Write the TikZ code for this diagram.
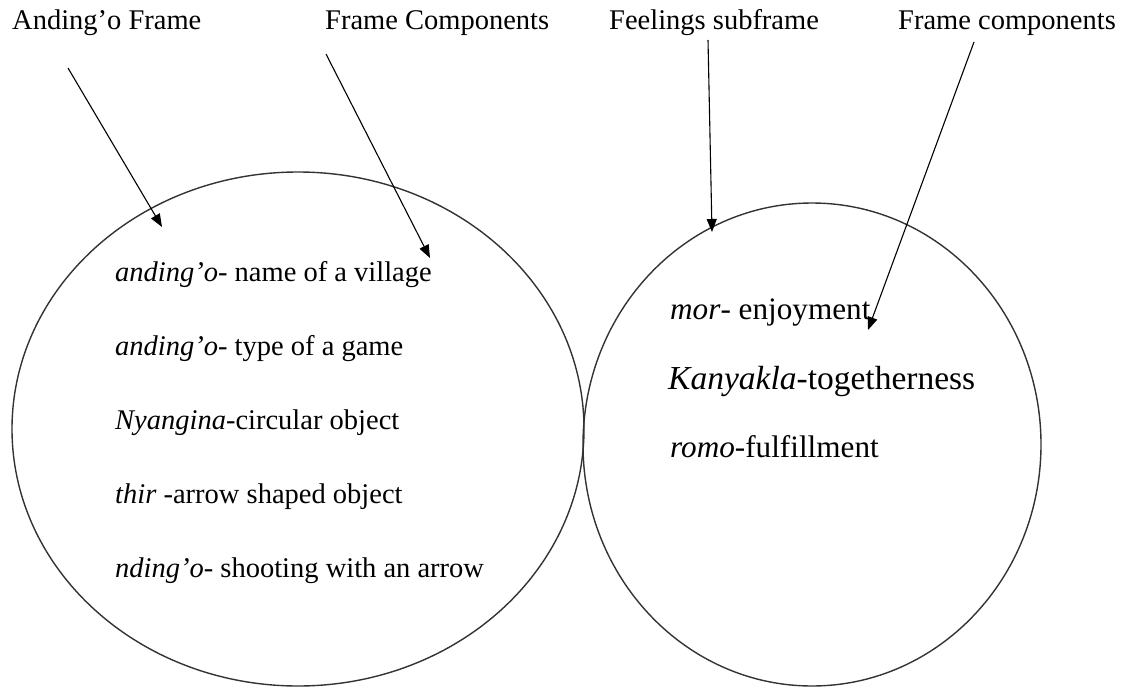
\documentclass[tikz,border=0pt]{standalone}
\usepackage{fontspec}
\setmainfont{Liberation Serif}
\usetikzlibrary{arrows.meta,shapes.geometric}
\begin{document}
\begin{tikzpicture}[x=1pt,y=-1pt,
  frame/.style={draw=black!80, line width=1.4pt, ellipse, inner sep=0pt},
  heading/.style={anchor=west, inner sep=0pt, font=\fontsize{28.5}{32}\selectfont},
  entry/.style={anchor=west, inner sep=0pt, font=\fontsize{28.5}{32}\selectfont},
  rentry/.style={anchor=west, inner sep=0pt, font=\fontsize{31.2}{34}\selectfont},
  pointer/.style={line width=1.1pt, -{Triangle[length=13pt,width=10pt]}}]
\useasboundingbox (0,0) rectangle (1124,688);

% the two frames
\node[frame, minimum width=572pt, minimum height=514pt] (andingo) at (298,429) {};
\node[frame, minimum width=458pt, minimum height=483pt] (feelings) at (812,444.5) {};

% headings along the top
\node[heading] (hA) at (12,23) {Anding’o Frame};
\node[heading] (hB) at (325,23) {Frame Components};
\node[heading] (hC) at (609,23) {Feelings subframe};
\node[heading] (hD) at (898,23) {Frame components};

% entries of the Anding'o frame
\node[entry] (a1) at (115,275) {\textit{anding'o}- name of a village};
\node[entry] (a2) at (115,349) {\textit{anding'o}- type of a game};
\node[entry] (a3) at (115,423) {\textit{Nyangina}-circular object};
\node[entry] (a4) at (115,497) {\textit{thir} -arrow shaped object};
\node[entry] (a5) at (115,571) {\textit{nding'o}- shooting with an arrow};

% entries of the feelings subframe
\node[rentry] (f1) at (670,313) {\textit{mor}- enjoyment};
\node[rentry, font=\fontsize{33.5}{37}\selectfont] (f2) at (668,381) {\textit{Kanyakla}-togetherness};
\node[rentry] (f3) at (670,447) {\textit{romo}-fulfillment};

% pointers from the headings
\coordinate (sA) at (68,68);
\coordinate (tA) at (162,227);
\coordinate (sB) at (326,54);
\coordinate (tB) at (430,258);
\coordinate (sC) at (708,40);
\coordinate (tC) at (712,232);
\coordinate (sD) at (974,42);
\coordinate (tD) at (868,330);
\draw[pointer] (sA) -- (tA);
\draw[pointer] (sB) -- (tB);
\draw[pointer] (sC) -- (tC);
\draw[pointer] (sD) -- (tD);
\end{tikzpicture}
\end{document}
